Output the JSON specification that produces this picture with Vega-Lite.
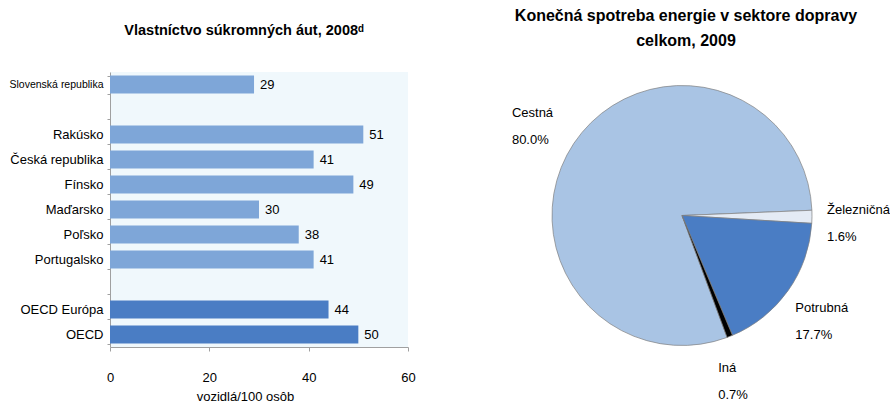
{
  "$schema": "https://vega.github.io/schema/vega-lite/v6.json",
  "padding": {"left": 5, "top": 8, "right": 0, "bottom": 0},
  "background": "white",
  "bounds": "flush",
  "spacing": 144,
  "resolve": {"scale": {"color": "independent"}},
  "config": {"font": "Liberation Sans", "view": {"stroke": null}},
  "hconcat": [
    {
      "width": 298,
      "height": 275,
      "title": {"text": "Vlastníctvo súkromných áut, 2008ᵈ", "fontSize": 14.5, "fontWeight": "bold", "anchor": "middle", "frame": "group", "dx": -15, "offset": 28, "color": "#000"},
      "view": {"fill": "#f0f8fc", "stroke": null},
      "data": {"values": [
        {"country": "Slovenská republika", "cars": 29, "group": "country"},
        {"country": "Rakúsko", "cars": 51, "group": "country"},
        {"country": "Česká republika", "cars": 41, "group": "country"},
        {"country": "Fínsko", "cars": 49, "group": "country"},
        {"country": "Maďarsko", "cars": 30, "group": "country"},
        {"country": "Poľsko", "cars": 38, "group": "country"},
        {"country": "Portugalsko", "cars": 41, "group": "country"},
        {"country": "OECD Európa", "cars": 44, "group": "oecd"},
        {"country": "OECD", "cars": 50, "group": "oecd"}
      ]},
      "encoding": {
        "y": {
          "field": "country", "type": "nominal",
          "scale": {"domain": ["Slovenská republika", " ", "Rakúsko", "Česká republika", "Fínsko", "Maďarsko", "Poľsko", "Portugalsko", "  ", "OECD Európa", "OECD"], "paddingInner": 0.28, "paddingOuter": 0.14},
          "axis": {
            "title": null,
            "domainColor": "#a0a0a0",
            "tickColor": "#a0a0a0",
            "tickSize": 3,
            "tickBand": "extent",
            "labelFontSize": {"condition": {"test": "datum.value === 'Slovenská republika'", "value": 10.5}, "value": 13},
            "labelPadding": 4,
            "labelColor": "#000",
            "labelLimit": 200,
            "minExtent": 105,
            "maxExtent": 105
          }
        },
        "x": {
          "field": "cars", "type": "quantitative",
          "scale": {"domain": [0, 60]},
          "axis": {
            "title": "vozidlá/100 osôb",
            "titleFontWeight": "normal",
            "titleFontSize": 13,
            "titleColor": "#000",
            "titleX": 135,
            "titlePadding": 6,
            "values": [0, 20, 40, 60],
            "labelFontSize": 13,
            "labelColor": "#000",
            "labelPadding": 20,
            "labelFlush": false,
            "tickSize": 4,
            "grid": false,
            "domainColor": "#a0a0a0",
            "tickColor": "#a0a0a0"
          }
        }
      },
      "layer": [
        {
          "mark": {"type": "bar"},
          "encoding": {
            "color": {"field": "group", "type": "nominal", "scale": {"domain": ["country", "oecd"], "range": ["#7ea6d8", "#4a7dc4"]}, "legend": null}
          }
        },
        {
          "mark": {"type": "text", "align": "left", "dx": 6, "fontSize": 13, "color": "#000"},
          "encoding": {"text": {"field": "cars", "type": "quantitative"}}
        }
      ]
    },
    {
      "width": 260,
      "height": 287,
      "title": {"text": ["Konečná spotreba energie v sektore dopravy", "celkom, 2009"], "fontSize": 16, "fontWeight": "bold", "anchor": "middle", "frame": "group", "dx": 4, "offset": 23, "lineHeight": 25, "color": "#000"},
      "data": {"values": [
        {"mode": "Cestná", "share": 80.0},
        {"mode": "Železničná", "share": 1.6},
        {"mode": "Potrubná", "share": 17.7},
        {"mode": "Iná", "share": 0.7}
      ]},
      "transform": [
        {"calculate": "datum.mode + '\\n' + format(datum.share, '.1f') + '%'", "as": "label"},
        {"calculate": "indexof(['Železničná', 'Potrubná', 'Iná', 'Cestná'], datum.mode)", "as": "slice_order"}
      ],
      "encoding": {
        "theta": {"field": "share", "type": "quantitative", "stack": true, "scale": {"range": [1.5306, 7.8138]}},
        "order": {"field": "slice_order", "type": "quantitative", "sort": "ascending"},
        "color": {"field": "mode", "type": "nominal", "scale": {"domain": ["Železničná", "Potrubná", "Iná", "Cestná"], "range": ["#e4ebf5", "#4a7dc4", "#000000", "#a9c4e4"]}, "legend": null}
      },
      "layer": [
        {"mark": {"type": "arc", "outerRadius": 130, "stroke": "#808080", "strokeWidth": 0.7}},
        {
          "mark": {"type": "text", "radius": 172, "align": "left", "dx": -27, "dy": -7, "fontSize": 13, "lineBreak": "\n", "lineHeight": 27},
          "encoding": {"text": {"field": "label"}, "fill": {"value": "#000"}}
        }
      ]
    }
  ]
}
